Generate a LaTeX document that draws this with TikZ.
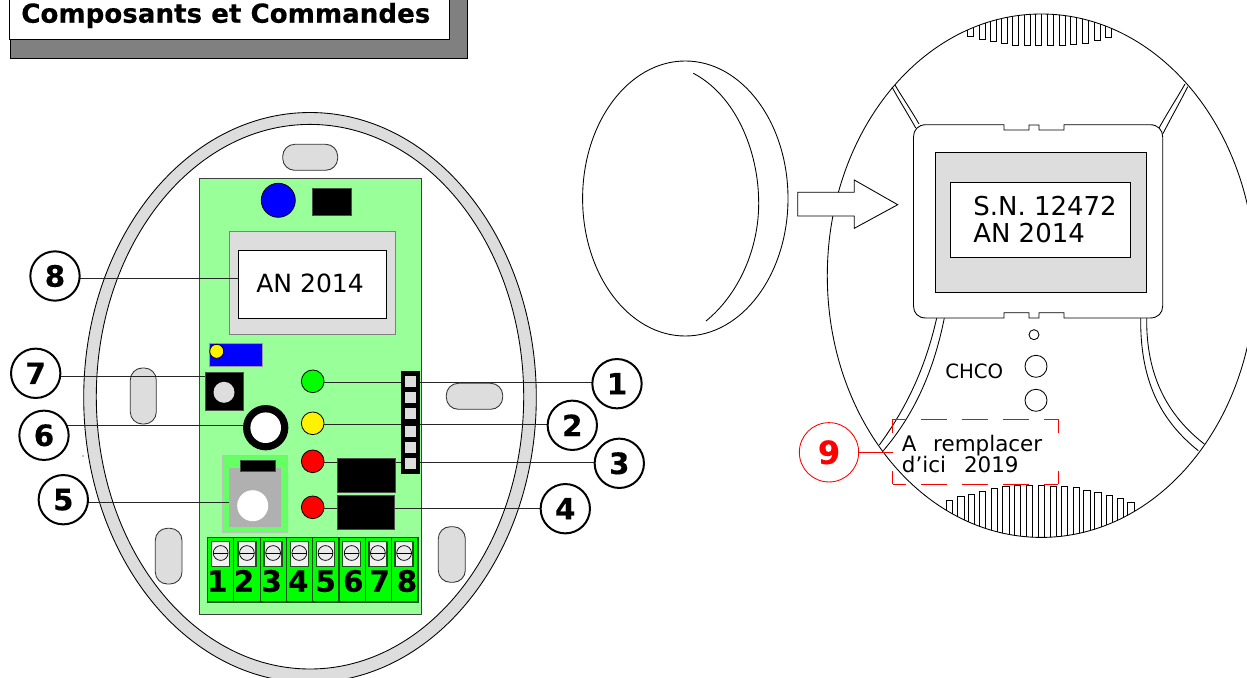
\documentclass[tikz,border=0pt]{standalone}
\usepackage{fontspec}
\setmainfont{DejaVu Sans}
\newfontfamily\heavy[FakeBold=0.4]{DejaVu Sans Bold}
\usetikzlibrary{positioning}
\definecolor{pcb}{HTML}{99FF99}
\definecolor{lightgr}{HTML}{DDDDDD}
\definecolor{midgr}{HTML}{808080}
\definecolor{termdark}{HTML}{1F4F1F}
\definecolor{jackgr}{HTML}{B0B0B0}
\definecolor{jackbg}{HTML}{66FF66}
\tikzset{
  thin line/.style={line width=0.65pt,draw=black},
  slot/.style={line width=0.65pt,draw=black!80,fill=lightgr,rounded corners=9pt},
  blk/.style={fill=black,draw=black!70,line width=0.4pt},
  led/.style={circle,draw=black,line width=0.6pt,inner sep=0pt,minimum size=17pt},
  callout/.style={circle,draw=black,line width=1.5pt,fill=white,inner sep=0pt,minimum size=37pt,font=\fontsize{22pt}{22pt}\selectfont\heavy},
  txt/.style={anchor=base west,inner sep=0pt},
  box/.style={inner sep=0pt,outer sep=0pt,anchor=north west},
  con/.style={line width=0.65pt,draw=black!85},
}
\begin{document}
\begin{tikzpicture}[x=0.75pt,y=-0.75pt]
\useasboundingbox (0,0) rectangle (1247,678);
\clip (0,0) rectangle (1247,678);
% title
\draw[fill=midgr,line width=0.7pt] (10,-5) rectangle (467.3,58.7);
\draw[fill=white,line width=0.7pt] (9.5,-5) rectangle (449.3,39.3);
\node[txt] (title) at (21,22.7) {\fontsize{19.6pt}{20pt}\selectfont\heavy Composants et Commandes};
% housing left
\draw[thin line,fill=lightgr] (310,397.5) ellipse [x radius=226.3,y radius=285];
\draw[thin line,fill=white] (310,396.7) ellipse [x radius=213.7,y radius=272.3];
\fill (83,456) circle (0.6);
\draw[slot] (282.7,144.3) rectangle (337.7,170.3);
\draw[slot] (130.3,368) rectangle (156.3,424);
\draw[slot] (155.3,528.3) rectangle (182,584);
\draw[slot] (446.3,383.3) rectangle (502.7,409.3);
\draw[slot] (438.3,526.7) rectangle (465.3,582.3);
% board
\draw[line width=0.75pt,draw=black!75,fill=pcb] (199.5,178.3) rectangle (421.7,614);
% transformer
\draw[line width=0.75pt,draw=black!50,fill=lightgr] (229.5,231) rectangle (395,334);
\node[box,draw=black,line width=0.7pt,fill=white,minimum width=111pt,minimum height=51pt] (label) at (238,250.5) {};
\node[txt] (antxt) at (256,292) {\fontsize{18.8pt}{20pt}\selectfont AN 2014};
% named parts used by the connectors
\node[led,fill=green] (led1) at (312.7,381.3) {};
\node[led,fill=yellow] (led2) at (312.7,423.3) {};
\node[led,fill=red] (led3) at (312.7,461.3) {};
\node[led,fill=red] (led4) at (312.7,507.3) {};
\node[box,blk,minimum width=28.5pt,minimum height=28.2pt] (sw) at (205,372.7) {};
\node[circle,fill=black,inner sep=0pt,minimum size=34pt] (ring) at (265.7,427.7) {};
\node[box,draw=black!25,line width=0.6pt,fill=jackbg,minimum width=49pt,minimum height=57.7pt] (jackbase) at (222.3,455.3) {};
\node[box,fill=jackgr,minimum width=39.2pt,minimum height=43.8pt] (jack) at (229,468.3) {};
% connectors
\coordinate (a1) at (617,382.3);
\coordinate (a2) at (572,424.7);
\coordinate (a3) at (619,462.3);
\coordinate (a4) at (565,508.3);
\coordinate (a5) at (63,502.3);
\coordinate (a6) at (44,425.7);
\coordinate (a7) at (35,376);
\coordinate (a8) at (55,278.7);
\draw[con] (a1) -- (a1 -| led1.east);
\draw[con] (a2) -- (a2 -| led2.east);
\draw[con] (a3) -- (a3 -| led3.east);
\draw[con] (a4) -- (a4 -| led4.east);
\draw[con] (a5) -- (a5 -| jack.west);
\draw[con] (a6) -- (a6 -| ring.west);
\draw[con] (a7) -- (a7 -| sw.west);
\draw[con] (a8) -- (a8 -| label.west);
% components over connectors
\node[led,minimum size=25.5pt,fill=blue] (bluec) at (278.3,200.3) {};
\node[box,blk,minimum width=28.7pt,minimum height=19.7pt] (blackrect) at (312.7,188.7) {};
\node[box,fill=blue,draw=black!40,line width=0.4pt,minimum width=39.7pt,minimum height=17.5pt] (bluerect) at (209,343.3) {};
\node[led,fill=yellow,minimum size=10.5pt] (trim) at (216.7,351.3) {};
\fill[lightgr] (224,392.3) circle (10.5);
\fill[white] (ring.center) circle (15.3);
\node[box,blk,minimum width=26pt,minimum height=8pt] (jacktop) at (240.3,460.7) {};
\fill[white] (252.7,505.7) circle (15.5);
\node[box,blk,minimum width=43.2pt,minimum height=25.2pt] (rel1) at (337.7,458.3) {};
\node[box,blk,minimum width=42.7pt,minimum height=25.5pt] (rel2) at (337,495.3) {};
\node[box,fill=black,minimum width=14.3pt,minimum height=77.2pt] (strip) at (401,371) {};
\foreach \yy in {381.3,397.7,413.7,431.7,447.7,463.7}
  \fill[lightgr] (405.4,\yy-5.3) rectangle (416,\yy+5.3);
% terminal block
\draw[line width=1.3pt,draw=termdark,fill=green] (207.5,537.5) rectangle (418,601.7);
\foreach \i in {1,...,7}
  \draw[line width=0.9pt,draw=termdark] (207.5+\i*26.3,537.5) -- (207.5+\i*26.3,601.7);
\foreach \i/\dx [count=\n] in {0/217.3,1/244,2/271.7,3/298.3,4/325.7,5/353.3,6/379.7,7/407}{
  \pgfmathsetmacro{\cx}{220.7+26.2*\i}
  \draw[line width=1.1pt,draw=termdark,fill=white!95!black] (\cx-9,541.5) rectangle (\cx+9,566.5);
  \draw[line width=0.55pt,fill=lightgr!60!white] (\cx,553) circle (7.4);
  \draw[line width=0.55pt] (\cx-7.4,553) -- (\cx+7.4,553);
  \node[inner sep=0pt,anchor=base] (t\n) at (\dx,591.7) {\fontsize{22pt}{22pt}\selectfont\heavy \n};
}
% callouts
\node[callout] (c1) at (617,383.7) {1};
\node[callout] (c2) at (572.3,425.3) {2};
\node[callout] (c3) at (619.3,463.3) {3};
\node[callout] (c4) at (565.3,508.7) {4};
\node[callout] (c5) at (63.3,499.7) {5};
\node[callout] (c6) at (44,435.3) {6};
\node[callout] (c7) at (35.7,373.3) {7};
\node[callout] (c8) at (55,276) {8};
% lens
\draw[thin line] (685.3,198.5) ellipse [x radius=102.7,y radius=137.5];
\draw[thin line] (693.3,73.3) .. controls (735,95) and (758.7,150) .. (758.7,203.3) .. controls (758.7,250) and (738,295) .. (706,321);
% right housing
\draw[thin line] (1041.3,275.7) ellipse [x radius=214,y radius=261.7];
\begin{scope}
\clip (1041.3,275.7) ellipse [x radius=214,y radius=261.7];
\foreach \a/\b in {443/108,477/117,510/124,543/130,578/135,612/137,647/137,681/137,717/137,752/133,788/129,823/122,857/112}
  \draw[line width=0.6pt] (820+\a/3,0) rectangle (820+\a/3+6,\b/3);
\foreach \a/\b in {469/600,503/590,535/582,568/573,603/566,638/560,673/556,709/555,745/557,781/558,814/560,849/563,881/570,914/576,949/586,982/596,1013/606}
  \draw[line width=0.6pt] (790+\a/3,678) rectangle (790+\a/3+6.4,300+\b/3);
\end{scope}
% ribs
\draw[thin line] (892,87) .. controls (899,100) and (908,114) .. (915.7,128);
\draw[thin line] (895,85) .. controls (902,97) and (911,110) .. (919,124);
\draw[thin line] (1187.7,86.7) .. controls (1180,102) and (1171,118) .. (1162.7,134);
\draw[thin line] (1185,84) .. controls (1177,98) and (1168,112) .. (1159,128);
\draw[thin line] (936.7,318) .. controls (925,370) and (905,410) .. (879.3,445);
\draw[thin line] (944.3,318) .. controls (933,375) and (912,417) .. (883.3,450.7);
\draw[thin line] (1140.7,318) .. controls (1140,380) and (1160,420) .. (1198.3,450.7);
\draw[thin line] (1146.7,318) .. controls (1146,375) and (1167,415) .. (1204.3,444);
% module
\draw[thin line,fill=white] (913.5,137) .. controls (913.5,130) and (918,124.7) .. (926,124.7)
  -- (1004,124.7) -- (1004,130) -- (1029,130) -- (1029,125) -- (1039,125) -- (1039,130) -- (1064,130) -- (1064,124.7)
  -- (1150,124.7) .. controls (1158,124.7) and (1162.7,130) .. (1162.7,137)
  -- (1162.7,306) .. controls (1162.7,313) and (1158,318) .. (1150,318)
  -- (1064,318) -- (1064,312.7) -- (1039,312.7) -- (1039,318) -- (1029,318) -- (1029,312.7) -- (1004,312.7) -- (1004,318)
  -- (926,318) .. controls (918,318) and (913.5,313) .. (913.5,306) -- cycle;
\draw[thin line,fill=lightgr] (935.7,152.3) rectangle (1146.7,292.7);
\draw[thin line,fill=white] (950.3,182.3) rectangle (1130,257.3);
\node[txt] (sn) at (973,215) {\fontsize{19.5pt}{20pt}\selectfont S.N. 12472};
\node[txt] (an) at (973,242) {\fontsize{19.5pt}{20pt}\selectfont AN 2014};
% arrow
\draw[thin line,fill=white] (797.7,192.3) -- (854.3,192.3) -- (854.3,180) -- (897.7,204.7) -- (854.3,228.3) -- (854.3,216) -- (797.7,216) -- cycle;
% lower right
\draw[thin line] (1034,334.7) circle (5);
\draw[thin line] (1036,366.3) circle (11);
\draw[thin line] (1036,400.3) circle (11);
\node[txt] (chco) at (945,378.3) {\fontsize{14.8pt}{15pt}\selectfont CHCO};
% red callout
\node[txt] (rep1) at (901.7,451) {\fontsize{16.1pt}{17pt}\selectfont A\hspace{12.4pt}remplacer};
\node[txt] (rep2) at (901.7,472.7) {\fontsize{16.1pt}{17pt}\selectfont d’ici\hspace{13.4pt}2019};
\coordinate (rtl) at (892.7,419.3);
\coordinate (rbr) at (1058.3,484.3);
\draw[red,line width=0.9pt,dash pattern=on 19.5pt off 11.25pt,dash phase=9.5pt] (rtl) -- (rtl -| rbr);
\draw[red,line width=0.9pt,dash pattern=on 19.5pt off 11.25pt,dash phase=9.5pt] (rtl |- rbr) -- (rbr);
\draw[red,line width=0.9pt,dash pattern=on 10pt off 29pt] (rtl) -- (rtl |- rbr);
\draw[red,line width=0.9pt,dash pattern=on 10pt off 29pt] (rtl -| rbr) -- (rbr);
\node[circle,draw=red,line width=0.65pt,text=red,inner sep=0pt,minimum size=44.5pt,font=\fontsize{24pt}{24pt}\selectfont\heavy] (c9) at (829,452.3) {9};
\coordinate (a9) at (892.7,452.3);
\draw[red,line width=0.65pt] (c9.east) -- (a9);
\end{tikzpicture}
\end{document}
